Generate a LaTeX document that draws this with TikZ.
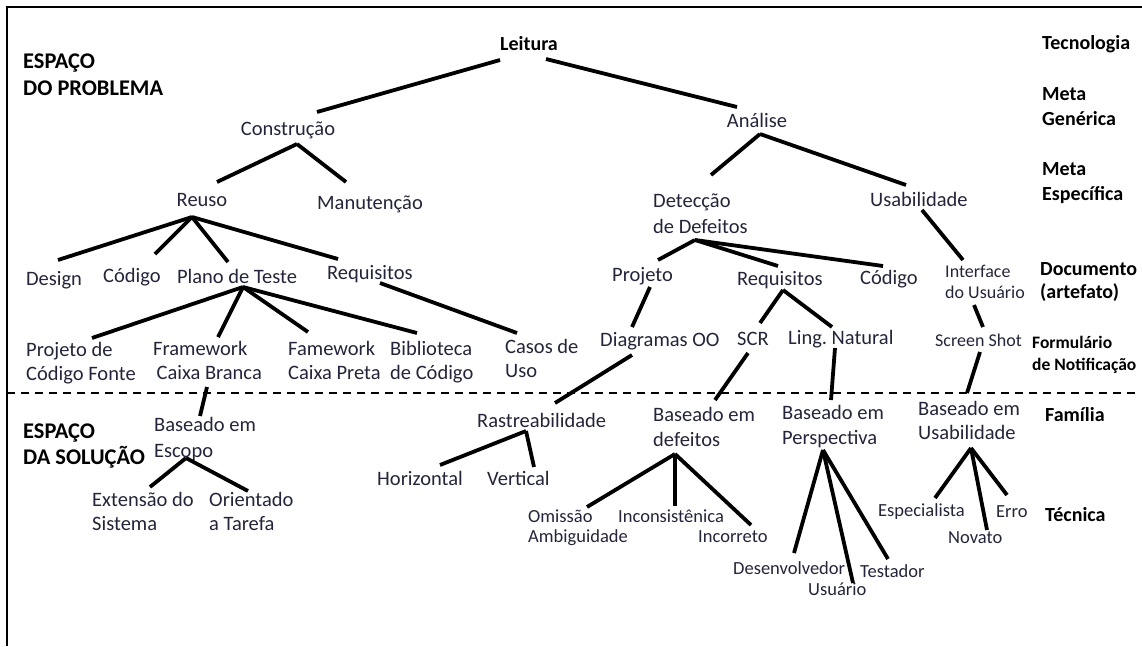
\documentclass[tikz,border=0pt]{standalone}
\usepackage{fontspec}
\setmainfont{Carlito}
\definecolor{ink}{HTML}{24243A}
\newcommand\twoln[2]{\begin{tabular}[t]{@{}l@{}}#1\\#2\end{tabular}}
\begin{document}
\begin{tikzpicture}[x=1pt,y=-1pt,
  txt/.style={anchor=base west,inner sep=0pt,text=ink,font=\fontsize{20.5}{25}\selectfont},
  txtc/.style={txt,anchor=base},
  sm/.style={font=\fontsize{18.5}{20}\selectfont},
  hd/.style={anchor=base west,inner sep=0pt,text=black,font=\fontsize{20}{25}\bfseries\selectfont},
  conn/.style={line width=3.8pt,black},
  sep/.style={line width=2pt,dash pattern=on 8pt off 6pt}]
\useasboundingbox (0,0) rectangle (1142,646);
% frame edges
\draw[line width=2.6pt] (7,646) -- (7,7) -- (1142,7);

% level labels on the right
\node[hd] (tec) at (1042,49) {Tecnologia};
\node[hd] (mg) at (1042,100) {\twoln{Meta}{Genérica}};
\node[hd] (me) at (1042,175) {\twoln{Meta}{Específica}};
\node[hd,font=\fontsize{20}{23}\bfseries\selectfont] (doc) at (1040,275) {\twoln{Documento}{(artefato)}};
\node[hd,font=\fontsize{17.5}{22}\bfseries\selectfont] (form) at (1032,348) {\twoln{Formulário}{de Notificação}};
\node[hd] (fam) at (1045,421) {Família};
\node[hd] (tecn) at (1045,521) {Técnica};

% space headings
\node[hd,font=\fontsize{22.4}{27}\bfseries\selectfont] (prob) at (23,68) {\twoln{ESPAÇO}{DO PROBLEMA}};
\node[hd,font=\fontsize{22.4}{26}\bfseries\selectfont] (sol) at (23,438) {\twoln{ESPAÇO}{DA SOLUÇÃO}};

% separator between problem and solution space
\draw[sep] (7,393) -- (1137,393);

% ---- problem space ----
\node[hd,anchor=base] (leitura) at (529,50) {Leitura};
\node[txtc] (constr) at (288,135) {Construção};
\node[txtc] (analise) at (757,127) {Análise};
\node[txtc] (reuso) at (202,206) {Reuso};
\node[txtc] (manut) at (370,209) {Manutenção};
\node[txt,font=\fontsize{20.5}{26}\selectfont] (detec) at (653,207) {\twoln{Detecção}{de Defeitos}};
\node[txt] (usab) at (870,206) {Usabilidade};
\node[txtc] (design) at (54,285) {Design};
\node[txtc] (codigo) at (132,282) {Código};
\node[txtc] (plano) at (237,283) {Plano de Teste};
\node[txt] (requl) at (327,279) {Requisitos};
\node[txt] (projetor) at (612,281) {Projeto};
\node[txt] (requr) at (737,285) {Requisitos};
\node[txt] (codr) at (860,284) {Código};
\node[txt,font=\fontsize{18}{21}\selectfont] (iface) at (945,277) {\twoln{Interface}{do Usuário}};
\node[txt,font=\fontsize{20.5}{24}\selectfont] (pcf) at (26,356) {\twoln{Projeto de}{Código Fonte}};
\node[txt,font=\fontsize{20.5}{24}\selectfont] (fwb) at (153,355) {\twoln{Framework}{\,Caixa Branca}};
\node[txt,font=\fontsize{20.5}{24}\selectfont] (fwp) at (288,355) {\twoln{Famework}{Caixa Preta}};
\node[txt,font=\fontsize{20.5}{24}\selectfont] (bib) at (390,355) {\twoln{Biblioteca}{de Código}};
\node[txt,font=\fontsize{20.5}{24}\selectfont] (casos) at (505,353) {\twoln{Casos de}{Uso}};
\node[txt] (diag) at (600,346) {Diagramas OO};
\node[txt] (scr) at (737,345) {SCR};
\node[txt] (ling) at (788,344) {Ling.\ Natural};
\node[txt,font=\fontsize{18}{21}\selectfont] (shot) at (935,346) {Screen Shot};

% ---- solution space ----
\node[txt,font=\fontsize{20.5}{26}\selectfont] (escopo) at (154,431) {\twoln{Baseado em}{Escopo}};
\node[txt,font=\fontsize{20.5}{24.5}\selectfont] (ext) at (92,506) {\twoln{Extensão do}{Sistema}};
\node[txt,font=\fontsize{20.5}{24.5}\selectfont] (orient) at (209,506) {\twoln{Orientado}{a Tarefa}};
\node[txt] (rastr) at (477,427) {Rastreabilidade};
\node[txt] (horiz) at (377,485) {Horizontal};
\node[txt] (vert) at (487,485) {Vertical};
\node[txt,font=\fontsize{20.5}{25}\selectfont] (bdef) at (653,421) {\twoln{Baseado em}{defeitos}};
\node[txt,sm] (omis) at (528,522) {\twoln{Omissão}{Ambiguidade}};
\node[txt,sm] (incons) at (618,522) {Inconsistênica};
\node[txt,sm] (incor) at (698,542) {Incorreto};
\node[txt,font=\fontsize{20.5}{25}\selectfont] (persp) at (782,419) {\twoln{Baseado em}{Perspectiva}};
\node[txt,sm] (desenv) at (733,574) {Desenvolvedor};
\node[txt,sm] (usuario) at (808,595) {Usuário};
\node[txt,sm] (testador) at (860,577) {Testador};
\node[txt,font=\fontsize{20.5}{24}\selectfont] (busab) at (918,415) {\twoln{Baseado em}{Usabilidade}};
\node[txt,sm] (espec) at (878,516) {Especialista};
\node[txt,sm] (erro) at (996,517) {Erro};
\node[txt,sm] (novato) at (948,543) {Novato};

% attachment points of the connectors
\coordinate (leitura-l) at (500,60);   \coordinate (leitura-r) at (546,59);
\coordinate (constr-t) at (317,112);   \coordinate (constr-b) at (297,144);
\coordinate (analise-t) at (737,107);  \coordinate (analise-b) at (760,134);
\coordinate (reuso-t) at (217,182);    \coordinate (reuso-b) at (192,217);
\coordinate (manut-t) at (346,182);
\coordinate (detec-t) at (711,175);    \coordinate (detec-b) at (695,240);
\coordinate (usab-t) at (906,185);     \coordinate (usab-b) at (922,210);
\coordinate (design-t) at (58,260);
\coordinate (codigo-t) at (155,254);
\coordinate (plano-t) at (228,262);    \coordinate (plano-b) at (243,287);
\coordinate (requl-t) at (338,259);    \coordinate (requl-b) at (380,283);
\coordinate (projetor-t) at (658,260); \coordinate (projetor-b) at (650,287);
\coordinate (requr-t) at (778,266);    \coordinate (requr-b) at (783,290);
\coordinate (codr-t) at (883,266);
\coordinate (iface-t) at (963,260);    \coordinate (iface-b) at (974,305);
\coordinate (pcf-t) at (92,338);
\coordinate (fwb-t) at (218,337);      \coordinate (fwb-b) at (207,387);
\coordinate (fwp-t) at (308,332);
\coordinate (bib-t) at (417,333);
\coordinate (casos-t) at (517,333);
\coordinate (diag-t) at (632,327);     \coordinate (diag-b) at (632,355);
\coordinate (scr-t) at (760,323);      \coordinate (scr-b) at (748,353);
\coordinate (ling-t) at (832,327);     \coordinate (ling-b) at (835,348);
\coordinate (shot-t) at (983,327);     \coordinate (shot-b) at (980,352);
\coordinate (escopo-t) at (200,416);   \coordinate (escopo-b) at (186,458);
\coordinate (ext-t) at (150,487);
\coordinate (orient-t) at (248,491);
\coordinate (rastr-t) at (555,403);    \coordinate (rastr-b) at (526,431);
\coordinate (horiz-t) at (440,465);
\coordinate (vert-t) at (534,467);
\coordinate (bdef-t) at (715,400);     \coordinate (bdef-b) at (675,454);
\coordinate (omis-t) at (587,507);
\coordinate (incons-t) at (675,506);
\coordinate (incor-t) at (751,525);
\coordinate (persp-t) at (831,400);    \coordinate (persp-b) at (823,450);
\coordinate (desenv-t) at (794,553);
\coordinate (usuario-t) at (853,583);
\coordinate (testador-t) at (888,559);
\coordinate (busab-t) at (967,393);    \coordinate (busab-b) at (971,448);
\coordinate (espec-t) at (935,498);
\coordinate (novato-t) at (987,530);
\coordinate (erro-t) at (1007,495);

% connectors
\draw[conn] (leitura-l) -- (constr-t);
\draw[conn] (leitura-r) -- (analise-t);
\draw[conn] (constr-b) -- (reuso-t);
\draw[conn] (constr-b) -- (manut-t);
\draw[conn] (analise-b) -- (detec-t);
\draw[conn] (analise-b) -- (usab-t);
\draw[conn] (reuso-b) -- (design-t);
\draw[conn] (reuso-b) -- (codigo-t);
\draw[conn] (reuso-b) -- (plano-t);
\draw[conn] (reuso-b) -- (requl-t);
\draw[conn] (detec-b) -- (projetor-t);
\draw[conn] (detec-b) -- (requr-t);
\draw[conn] (detec-b) -- (codr-t);
\draw[conn] (usab-b) -- (iface-t);
\draw[conn] (plano-b) -- (pcf-t);
\draw[conn] (plano-b) -- (fwb-t);
\draw[conn] (plano-b) -- (fwp-t);
\draw[conn] (plano-b) -- (bib-t);
\draw[conn] (requl-b) -- (casos-t);
\draw[conn] (projetor-b) -- (diag-t);
\draw[conn] (requr-b) -- (scr-t);
\draw[conn] (requr-b) -- (ling-t);
\draw[conn] (iface-b) -- (shot-t);
\draw[conn] (fwb-b) -- (escopo-t);
\draw[conn] (diag-b) -- (rastr-t);
\draw[conn] (scr-b) -- (bdef-t);
\draw[conn] (ling-b) -- (persp-t);
\draw[conn] (shot-b) -- (busab-t);
\draw[conn] (escopo-b) -- (ext-t);
\draw[conn] (escopo-b) -- (orient-t);
\draw[conn] (rastr-b) -- (horiz-t);
\draw[conn] (rastr-b) -- (vert-t);
\draw[conn] (bdef-b) -- (omis-t);
\draw[conn] (bdef-b) -- (incons-t);
\draw[conn] (bdef-b) -- (incor-t);
\draw[conn] (persp-b) -- (desenv-t);
\draw[conn] (persp-b) -- (usuario-t);
\draw[conn] (persp-b) -- (testador-t);
\draw[conn] (busab-b) -- (espec-t);
\draw[conn] (busab-b) -- (novato-t);
\draw[conn] (busab-b) -- (erro-t);
\end{tikzpicture}
\end{document}
